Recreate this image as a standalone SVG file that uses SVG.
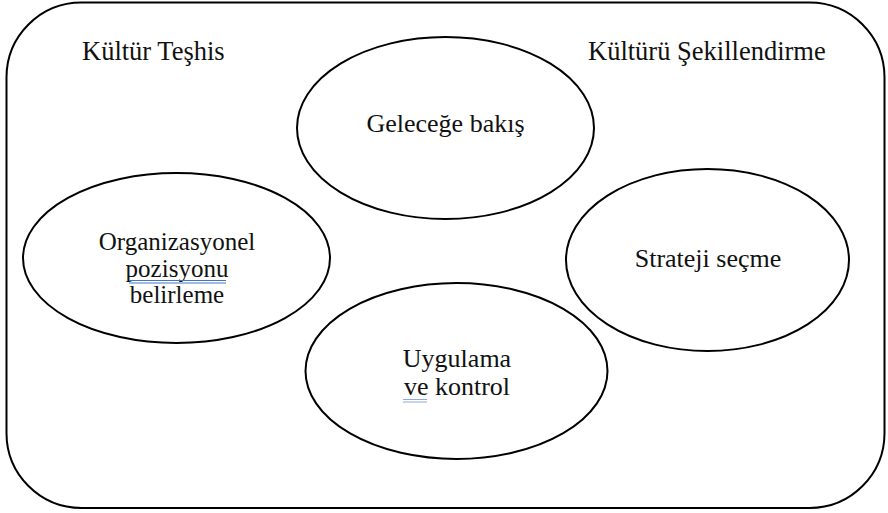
<svg xmlns="http://www.w3.org/2000/svg" width="888" height="513" viewBox="0 0 888 513">
<style>
.frame{fill:none;stroke:#000;stroke-width:2}
.node{fill:#fff;stroke:#000;stroke-width:2}
text{font-family:"Liberation Serif","Times New Roman",serif;font-size:26px;fill:#111}
.c{text-anchor:middle}
.s{font-size:25px}
.ul{stroke:#4472c4;stroke-width:1}
.ul2{stroke:#8ea9db;stroke-width:1}
</style>
<rect class="frame" x="6.5" y="2.5" width="878" height="505.5" rx="75" ry="75"/>
<text x="82" y="60" style="font-size:26.5px">Kültür Teşhis</text>
<text x="588" y="60" style="font-size:26.5px">Kültürü Şekillendirme</text>
<g id="gelecege-bakis">
<ellipse class="node" cx="445.5" cy="128" rx="148.5" ry="91"/>
<text class="c" x="445.5" y="132">Geleceğe bakış</text>
</g>
<g id="organizasyonel">
<ellipse class="node" cx="176.5" cy="258" rx="153.5" ry="85"/>
<text class="c s" x="177" y="250">Organizasyonel</text>
<text class="c s" x="177" y="276.5">pozisyonu</text>
<text class="c s" x="177" y="303">belirleme</text>
<line class="ul" x1="129" y1="280.5" x2="226" y2="280.5"/>
<line class="ul" x1="129" y1="283" x2="226" y2="283"/>
</g>
<g id="strateji">
<ellipse class="node" cx="707.5" cy="260" rx="141.5" ry="91"/>
<text class="c" x="708" y="267">Strateji seçme</text>
</g>
<g id="uygulama">
<ellipse class="node" cx="456.5" cy="371" rx="151" ry="88"/>
<text class="c" x="457" y="367">Uygulama</text>
<text class="c" x="457" y="395">ve kontrol</text>
<line class="ul2" x1="403" y1="399.5" x2="427" y2="399.5"/>
<line class="ul2" x1="403" y1="402" x2="427" y2="402"/>
</g>
<g id="connectors"></g>
</svg>
